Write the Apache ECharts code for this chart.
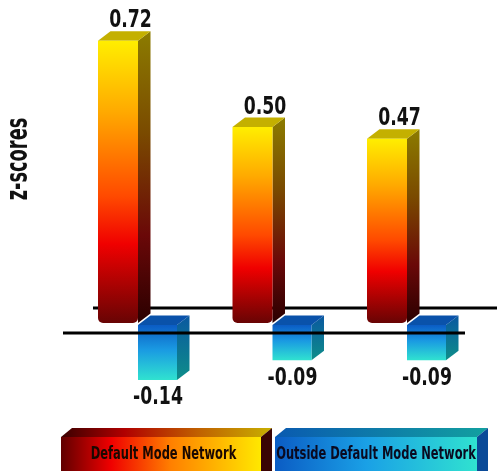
<!DOCTYPE html>
<html>
<head>
<meta charset="utf-8">
<script src="https://cdn.jsdelivr.net/npm/echarts@6/dist/echarts.min.js"></script>
<style>
html,body{margin:0;padding:0;background:#fff;}
#main{width:497px;height:471px;}
</style>
</head>
<body>
<div id="main"></div>
<script>
const categories = ['Group 1', 'Group 2', 'Group 3'];
const dmnValues = [0.72, 0.50, 0.47];
const outsideValues = [-0.14, -0.09, -0.09];
const seriesNames = ['Default Mode Network', 'Outside Default Mode Network'];
const yAxisTitle = 'z-scores';

const FONT = '"Liberation Sans Narrow", "DejaVu Sans Condensed", "Open Sans", sans-serif';
const DX = 12.5, DY = -9.5, W = 40;

function vgrad(stops) {
  return { type: 'linear', x: 0, y: 0, x2: 0, y2: 1, colorStops: stops.map(s => ({ offset: s[0], color: s[1] })) };
}
function hgrad(stops) {
  return { type: 'linear', x: 0, y: 0, x2: 1, y2: 0, colorStops: stops.map(s => ({ offset: s[0], color: s[1] })) };
}

function renderRed(params, api) {
  const i = api.value(0), v = api.value(1);
  const top = api.coord([i, v]);
  const cx = top[0], yT = top[1];
  const y0 = api.coord([i, 0])[1];
  const L = cx - W, R = cx;
  return {
    type: 'group',
    children: [
      { type: 'polygon', shape: { points: [[R, yT], [R + DX, yT + DY], [R + DX, y0 + DY], [R, y0]] },
        style: { fill: vgrad([[0, '#8c7c00'], [0.35, '#7a4a00'], [0.7, '#6a0808'], [1, '#2a0000']]) } },
      { type: 'polygon', shape: { points: [[L, yT], [R, yT], [R + DX, yT + DY], [L + DX, yT + DY]] },
        style: { fill: '#c4b000' } },
      { type: 'rect', shape: { x: L, y: yT, width: W, height: y0 - yT, r: [0, 0, 5, 5] },
        style: { fill: vgrad([[0, '#ffee00'], [0.25, '#ffaa00'], [0.55, '#ff4a00'], [0.72, '#f00000'], [1, '#680404']]) } },
      { type: 'text', x: L + W / 2 + DX, y: yT + DY + 2, scaleX: 0.8,
        style: { x: 0, y: 0, text: v.toFixed(2), align: 'center', verticalAlign: 'bottom',
        fill: '#111', font: 'bold 24px ' + FONT } }
    ]
  };
}

function renderBlue(params, api) {
  const i = api.value(0), v = api.value(1);
  const bot = api.coord([i, v]);
  const cx = bot[0], yB = bot[1] + 2;
  const yF = api.coord([i, 0])[1] + 2;
  const L = cx, R = cx + 39;
  return {
    type: 'group',
    children: [
      { type: 'polygon', shape: { points: [[R, yF], [R + DX, yF + DY], [R + DX, yB + DY], [R, yB]] },
        style: { fill: vgrad([[0, '#0a58a0'], [1, '#0e8e8a']]) } },
      { type: 'polygon', shape: { points: [[L, yF], [R, yF], [R + DX, yF + DY], [L + DX, yF + DY]] },
        style: { fill: '#0a52aa' } },
      { type: 'rect', shape: { x: L, y: yF, width: R - L, height: yB - yF },
        style: { fill: vgrad([[0, '#0b5cc4'], [0.45, '#1a9ae2'], [1, '#30e2d0']]) } },
      { type: 'text', x: L + 20, y: yB + 6, scaleX: 0.8,
        style: { x: 0, y: 0, text: v.toFixed(2), align: 'center', verticalAlign: 'top',
        fill: '#111', font: 'bold 24px ' + FONT } }
    ]
  };
}

function renderUpperLine(params, api) {
  const c0 = api.coord([0, 0]);
  return { type: 'line', shape: { x1: c0[0] - 45, y1: c0[1] - 15, x2: api.getWidth(), y2: c0[1] - 15 },
    style: { stroke: '#000', lineWidth: 3 } };
}
function renderLowerLine(params, api) {
  const c0 = api.coord([0, 0]);
  const c2 = api.coord([categories.length - 1, 0]);
  return { type: 'line', shape: { x1: c0[0] - 75, y1: c0[1] + 10, x2: c2[0] + 58, y2: c0[1] + 10 },
    style: { stroke: '#000', lineWidth: 3 } };
}

const chart = echarts.init(document.getElementById('main'), null, { renderer: 'canvas' });
chart.setOption({
  backgroundColor: '#fff',
  animation: false,
  grid: { left: 70.75, right: 22.75, top: 9.4, bottom: 30.4 },
  xAxis: { type: 'category', data: categories, show: false },
  yAxis: { type: 'value', min: -0.3, max: 0.8, show: false },
  graphic: [
    { type: 'text', x: 19, y: 159, rotation: Math.PI / 2, scaleX: 0.66,
      style: { text: yAxisTitle, align: 'center', verticalAlign: 'middle', fill: '#111', font: 'bold 30px ' + FONT } },
    // legend item 1
    { type: 'polygon', shape: { points: [[61, 437], [261, 437], [272, 428], [72, 428]] },
      style: { fill: hgrad([[0, '#3a0000'], [0.3, '#b00000'], [0.65, '#c06000'], [1, '#c8b000']]) } },
    { type: 'polygon', shape: { points: [[261, 437], [272, 428], [272, 480], [261, 480]] }, style: { fill: '#3a0404' } },
    { type: 'rect', shape: { x: 61, y: 437, width: 200, height: 45 },
      style: { fill: hgrad([[0, '#600000'], [0.25, '#f00000'], [0.55, '#ff8000'], [1, '#ffe800']]) } },
    { type: 'text', x: 163.5, y: 455, scaleX: 0.75,
      style: { text: seriesNames[0], align: 'center', verticalAlign: 'middle', fill: '#1a0800', font: 'bold 17px ' + FONT } },
    // legend item 2
    { type: 'polygon', shape: { points: [[275, 437], [477, 437], [488, 428], [286, 428]] },
      style: { fill: hgrad([[0, '#0a5ab0'], [1, '#12a0a0']]) } },
    { type: 'polygon', shape: { points: [[477, 437], [488, 428], [488, 480], [477, 480]] }, style: { fill: '#0a4a98' } },
    { type: 'rect', shape: { x: 275, y: 437, width: 202, height: 45 },
      style: { fill: hgrad([[0, '#0b5cc4'], [0.45, '#1aa0e6'], [1, '#30e2d0']]) } },
    { type: 'text', x: 376, y: 455, scaleX: 0.75,
      style: { text: seriesNames[1], align: 'center', verticalAlign: 'middle', fill: '#0a0a20', font: 'bold 17px ' + FONT } }
  ],
  series: [
    { type: 'custom', name: 'baseline-upper', z: 1, renderItem: renderUpperLine, data: [[0, 0]], silent: true },
    { type: 'custom', name: seriesNames[0], z: 2, renderItem: renderRed, data: dmnValues.map((v, i) => [i, v]) },
    { type: 'custom', name: seriesNames[1], z: 3, renderItem: renderBlue, data: outsideValues.map((v, i) => [i, v]) },
    { type: 'custom', name: 'baseline-lower', z: 4, renderItem: renderLowerLine, data: [[0, 0]], silent: true }
  ]
});
</script>
</body>
</html>
